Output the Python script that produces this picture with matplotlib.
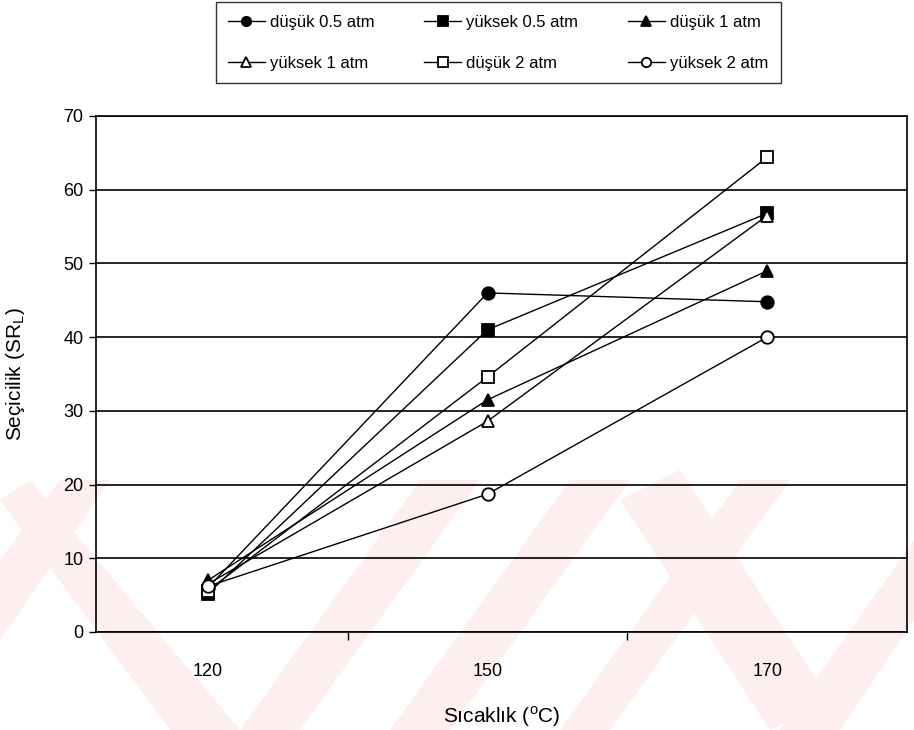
import matplotlib.pyplot as plt
from matplotlib.patches import Polygon
import numpy as np

plt.rcParams['font.family'] = ['Liberation Sans', 'DejaVu Sans']
plt.rcParams['mathtext.fontset'] = 'custom'
plt.rcParams['mathtext.rm'] = 'Liberation Sans'

sicaklik = ['120', '150', '170']
dusuk_05 = [6.0, 46.0, 44.8]
yuksek_05 = [5.2, 41.0, 56.8]
dusuk_1 = [7.0, 31.5, 49.0]
yuksek_1 = [6.5, 28.6, 56.5]
dusuk_2 = [5.6, 34.6, 64.4]
yuksek_2 = [6.2, 18.7, 40.0]

series = [
    ('düşük 0.5 atm', dusuk_05, 'o', 'black'),
    ('yüksek 0.5 atm', yuksek_05, 's', 'black'),
    ('düşük 1 atm', dusuk_1, '^', 'black'),
    ('yüksek 1 atm', yuksek_1, '^', 'white'),
    ('düşük 2 atm', dusuk_2, 's', 'white'),
    ('yüksek 2 atm', yuksek_2, 'o', 'white'),
]

fig = plt.figure(figsize=(9.14, 7.30), dpi=100)
W, H = 914, 730

# faint pink watermark of the scanned page, behind everything
bg = fig.add_axes([0, 0, 1, 1], zorder=-5)
bg.set_xlim(0, W)
bg.set_ylim(H, 0)
bg.axis('off')
pink = '#fdeef0'
bands = [
    [(0, 500), (30, 480), (240, 730), (170, 730)],
    [(60, 480), (110, 480), (0, 640), (0, 560)],
    [(240, 730), (300, 730), (480, 480), (420, 480)],
    [(390, 730), (450, 730), (630, 480), (570, 480)],
    [(560, 730), (610, 730), (790, 480), (740, 480)],
    [(620, 500), (680, 470), (830, 700), (770, 730)],
    [(780, 730), (840, 730), (914, 620), (914, 540)],
]
for b in bands:
    bg.add_patch(Polygon(b, closed=True, facecolor=pink, edgecolor='none'))

ax = fig.add_axes([96 / W, 1 - 632 / H, (907 - 96) / W, (632 - 116) / H])
ax.set_facecolor('none')

x = np.arange(len(sicaklik))
handles = []
for label, vals, m, fc in series:
    h, = ax.plot(x, vals, color='black', linewidth=1.0, marker=m, markersize=9,
                 markerfacecolor=fc, markeredgecolor='black', markeredgewidth=1.3,
                 label=label, zorder=3)
    handles.append(h)

ax.set_ylim(0, 70)
ax.set_yticks(np.arange(0, 71, 10))
ax.set_xlim(-0.4, 2.5)
ax.set_xticks(x)
ax.set_xticklabels(sicaklik)
ax.set_xticks([0.5, 1.5], minor=True)
ax.tick_params(axis='x', which='major', length=0, pad=22, labelsize=13)
ax.tick_params(axis='x', which='minor', length=6, direction='out', width=1)
ax.tick_params(axis='y', length=5, direction='out', width=1, labelsize=13, pad=4)
ax.yaxis.grid(True, color='black', linewidth=1.2)
ax.set_axisbelow(True)
for sp in ax.spines.values():
    sp.set_color('black')
    sp.set_linewidth(1.2)

ax.set_xlabel('Sıcaklık ($^{\\rm o}$C)', fontsize=15, labelpad=18)
ax.set_ylabel('Seçicilik (SR$_{\\rm L}$)', fontsize=15, labelpad=26)

# legend is filled row by row in the reference
order = [0, 3, 1, 4, 2, 5]
leg = fig.legend([handles[i] for i in order], [series[i][0] for i in order],
                 loc='upper center', bbox_to_anchor=(0.545, 1.008), ncol=3,
                 fontsize=12, frameon=True, fancybox=False, edgecolor='black',
                 handlelength=2.2, columnspacing=3.0, markerscale=0.75,
                 borderpad=0.75, labelspacing=1.55, handletextpad=0.3)
leg.get_frame().set_linewidth(1.0)

fig.savefig('out.png', dpi=100)
